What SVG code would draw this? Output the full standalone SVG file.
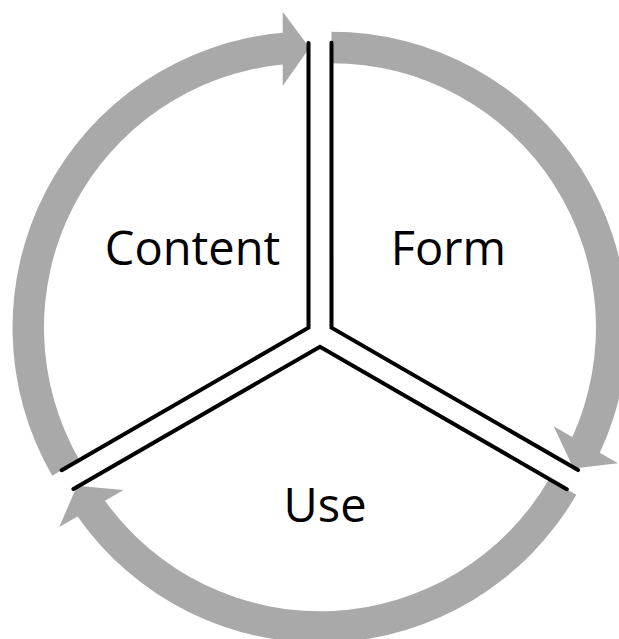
<svg xmlns="http://www.w3.org/2000/svg" width="619" height="639" viewBox="0 0 619 639">
  <style>
    .arc { fill: #A9A9A9; stroke: none; }
    .div { fill: none; stroke: #000000; stroke-width: 4; stroke-linejoin: miter; stroke-linecap: round; }
    .lbl { font-family: "Open Sans", "Noto Sans", "Liberation Sans", sans-serif; font-size: 47px; fill: #000000; text-anchor: middle; }
  </style>
  <defs>
    <path id="arcShape" d="M -256.3 148 A 296 296 0 0 1 -25.8 -294.9 L -25.8 -316 L 1 -280 L -25.8 -241.7 L -25.8 -263.2 A 264.5 264.5 0 0 0 -229.1 132.25 Z"/>
    <polyline id="divShape" points="-246.8,142.5 0,0 0,-284.7"/>
  </defs>
  <rect width="619" height="639" fill="#FFFFFF"/>
  <g id="connectors">
    <use href="#arcShape" class="arc" transform="translate(308.5,327.7)"/>
    <use href="#arcShape" class="arc" transform="translate(331.5,327.7) rotate(120)"/>
    <use href="#arcShape" class="arc" transform="translate(320,346.7) rotate(240)"/>
  </g>
  <g id="dividers">
    <use href="#divShape" class="div" transform="translate(308.5,327.7)"/>
    <use href="#divShape" class="div" transform="translate(331.5,327.7) rotate(120)"/>
    <use href="#divShape" class="div" transform="translate(320,346.7) rotate(240)"/>
  </g>
  <g id="node-content">
    <text class="lbl" x="192.5" y="265">Content</text>
  </g>
  <g id="node-form">
    <text class="lbl" x="448.3" y="265">Form</text>
  </g>
  <g id="node-use">
    <text class="lbl" x="325" y="521.7">Use</text>
  </g>
</svg>
